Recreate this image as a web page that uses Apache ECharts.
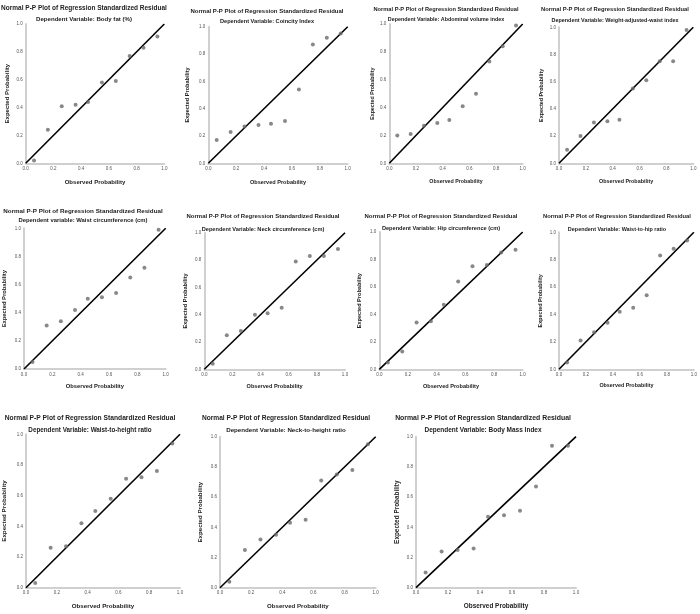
<!DOCTYPE html>
<html><head><meta charset="utf-8">
<script src="https://cdn.jsdelivr.net/npm/echarts@6/dist/echarts.min.js"></script>
<style>html,body{margin:0;padding:0;background:#fff}#c{width:700px;height:614px}</style>
</head><body><div id="c"></div>
<script>
const observed = [0.06,0.16,0.26,0.36,0.45,0.55,0.65,0.75,0.85,0.95];
const refLine = [[0,0],[1,1]];
const tickLabels = ['0.0','0.2','0.4','0.6','0.8','1.0'];
const mainTitle = 'Normal P-P Plot of Regression Standardized Residual';
const xName = 'Observed Probability';
const yName = 'Expected Probability';

const depVars = [
  'Dependent Variable: Body fat (%)',
  'Dependent Variable: Coincity Index',
  'Dependent Variable: Abdominal volume index',
  'Dependent Variable: Weight-adjusted-waist index',
  'Dependent variable: Waist circumference (cm)',
  'Dependent Variable: Neck circumference (cm)',
  'Dependent Variable: Hip circumference (cm)',
  'Dependent Variable: Waist-to-hip ratio',
  'Dependent Variable: Waist-to-height ratio',
  'Dependent Variable: Neck-to-height ratio',
  'Dependent Variable: Body Mass Index'
];

const bodyFat      = [0.02,0.24,0.41,0.42,0.44,0.58,0.59,0.77,0.83,0.91];
const coincity     = [0.17,0.23,0.27,0.28,0.29,0.31,0.54,0.87,0.92,0.95];
const abdominal    = [0.20,0.21,0.27,0.29,0.31,0.41,0.50,0.73,0.84,0.99];
const wwi          = [0.10,0.20,0.30,0.31,0.32,0.55,0.61,0.75,0.75,0.98];
const waist        = [0.05,0.31,0.34,0.42,0.50,0.51,0.54,0.65,0.72,0.99];
const neck         = [0.04,0.25,0.28,0.40,0.41,0.45,0.79,0.83,0.83,0.88];
const hip          = [0.05,0.13,0.34,0.35,0.47,0.64,0.75,0.76,0.85,0.87];
const waistHip     = [0.05,0.21,0.27,0.34,0.42,0.45,0.54,0.83,0.88,0.94];
const waistHeight  = [0.03,0.26,0.27,0.42,0.50,0.58,0.71,0.72,0.76,0.94];
const neckHeight   = [0.04,0.25,0.32,0.35,0.43,0.45,0.71,0.75,0.78,0.95];
const bmi          = [0.10,0.24,0.25,0.26,0.47,0.48,0.51,0.67,0.94,0.94];

const expected = [bodyFat,coincity,abdominal,wwi,waist,neck,hip,waistHip,waistHeight,neckHeight,bmi];

// layout: [x0, x1, top, bottom, titleCx, titleY, subY, yNameGap, xNameGap, titleFontSize]
const layout = [
  [25.7,164.3,24,163.3, 84,8,19, 15,16, 6.5],
  [208.3,347.7,26.7,163.3, 267,11,21, 18,16, 6.0],
  [389.3,522.7,24,163.3, 446,9,20, 14,16, 5.7],
  [559,693.3,27.3,163.3, 615,9,20, 15,16, 5.8],
  [22,165.7,228.3,369, 83,211,220, 17,14, 6.25],
  [204.3,345,232.7,369.3, 263,216,229, 16,14, 6.0],
  [379.3,522.7,232,369.3, 441,216,228, 17,14, 6.0],
  [559,694.7,232.3,369.3, 617,216,229, 16,14, 5.8],
  [24,180,434.3,587.7, 90,418,430, 19,16, 6.7],
  [220,375.7,436.7,587.7, 286,418,430, 17,16, 6.6],
  [416,576,436.7,587.7, 483,418,430, 16,16, 6.9]
];

const FF = 'Liberation Sans, Arial, sans-serif';
const grid=[],xAxis=[],yAxis=[],series=[],graphic=[];
layout.forEach((L,i)=>{
  const [x0,x1,top,bot,tcx,ty,sy,yg,xg,fs]=L;
  grid.push({left:x0, top:top, width:x1-x0, height:bot-top});
  const axisCommon = {
    type:'value', min:0, max:1, interval:0.2, gridIndex:i,
    nameLocation:'middle',
    nameTextStyle:{fontFamily:FF,fontSize:fs*0.93,fontWeight:'bold',color:'#222'},
    axisLine:{show:true,lineStyle:{color:'#d0d0d0',width:2}},
    axisTick:{show:false},
    splitLine:{show:false},
    axisLabel:{fontFamily:FF,fontSize:4.5,color:'#555',margin:3,
      formatter:v=>tickLabels[Math.round(v*5)]}
  };
  xAxis.push(Object.assign({},axisCommon,{name:xName,nameGap:xg}));
  yAxis.push(Object.assign({},axisCommon,{name:yName,nameGap:yg,nameRotate:90}));
  series.push({type:'line',xAxisIndex:i,yAxisIndex:i,data:refLine,symbol:'none',
    lineStyle:{color:'#000',width:1.6},silent:true,z:2});
  series.push({type:'scatter',xAxisIndex:i,yAxisIndex:i,symbolSize:4,
    itemStyle:{color:'#6a6a6a'},z:3,
    data:observed.map((x,k)=>[x,expected[i][k]])});
  graphic.push({type:'text',x:tcx,y:ty,style:{text:mainTitle,textAlign:'center',textVerticalAlign:'middle',
    font:'bold '+fs+'px '+FF,fill:'#222'}});
  graphic.push({type:'text',x:tcx,y:sy,style:{text:depVars[i],textAlign:'center',textVerticalAlign:'middle',
    font:'bold '+(fs*0.94).toFixed(2)+'px '+FF,fill:'#222'}});
});

const chart = echarts.init(document.getElementById('c'),null,{renderer:'canvas'});
chart.setOption({animation:false,grid,xAxis,yAxis,series,graphic});
</script></body></html>
